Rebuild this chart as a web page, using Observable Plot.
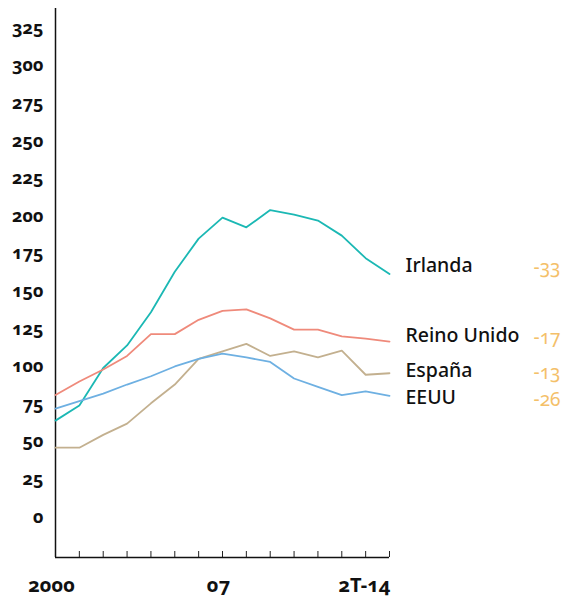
<!DOCTYPE html>
<html>
<head>
<meta charset="utf-8">
<script src="https://cdn.jsdelivr.net/npm/d3@7"></script>
<script src="https://cdn.jsdelivr.net/npm/@observablehq/plot@0.6"></script>
<style>
  html, body { margin: 0; padding: 0; background: #fff; }
  #chart svg { font-family: "Noto Sans", sans-serif; font-variant-numeric: oldstyle-nums; font-feature-settings: "onum" 1; display: block; }
</style>
</head>
<body>
<div id="chart"></div>
<script>
// x index 0..14 = 2000 .. 2T-14
const periods = d3.range(0, 15);
const xTickLabels = [{x: 0, label: "2000"}, {x: 7, label: "07"}];
const xLastLabel = [{x: 14, label: "2T-14"}];
const yTicks = [0, 25, 50, 75, 100, 125, 150, 175, 200, 225, 250, 275, 300, 325];

const irlanda    = [64, 74, 99, 114, 136, 163, 185, 199, 192.5, 204, 201, 197, 187, 172, 161.5];
const reinoUnido = [81, 90, 98, 107, 121.5, 121.5, 131, 137, 138, 132, 124.5, 124.5, 120, 118.5, 116.5];
const espana     = [46, 46, 54.5, 62, 75.5, 88, 105, 110, 115, 107, 110, 106, 110.5, 94.5, 95.5];
const eeuu       = [72, 77, 82, 88, 93.5, 100, 105, 108.5, 106, 103, 92, 86.5, 81, 83.5, 80.5];

const seriesNames = ["Irlanda", "Reino Unido", "España", "EEUU"];
const seriesValues = [irlanda, reinoUnido, espana, eeuu];
const changes = ["-33", "-17", "-13", "-26"];
const colors = ["#1bb8b4", "#ef8a7b", "#c3b08f", "#6eb0e2"];
const labelDy = [-8, -6, -2, 2];

const rows = seriesNames.flatMap((name, i) => seriesValues[i].map((v, j) => ({name, x: periods[j], y: v})));
const ends = seriesNames.map((name, i) => ({name, i, x: periods[periods.length - 1], y: seriesValues[i][seriesValues[i].length - 1], change: changes[i]}));

const yDomain = [-27, 338];

const marks = [
  Plot.axisY({ticks: yTicks, tickSize: 0, tickPadding: 12, fontSize: 18, fontWeight: "bold", fill: "#111", label: null}),
  Plot.axisX({ticks: d3.range(1, 15), tickSize: -6, tickFormat: () => "", stroke: "#222", label: null}),
  Plot.ruleX([0], {y1: yDomain[0], y2: yDomain[1], stroke: "#111", strokeWidth: 1.5}),
  Plot.ruleY([yDomain[0]], {x1: 0, x2: 14, stroke: "#111", strokeWidth: 1.5}),
  ...seriesNames.map((name, i) => Plot.lineY(rows.filter(d => d.name === name), {x: "x", y: "y", stroke: colors[i], strokeWidth: 1.8})),
  ...ends.map(d => Plot.text([d], {x: "x", y: "y", text: "name", textAnchor: "start", dx: 16, dy: labelDy[d.i], fontSize: 19.5, fontWeight: 500, fill: "#111"})),
  ...ends.map(d => Plot.text([d], {x: "x", y: "y", text: "change", textAnchor: "end", dx: 171, dy: labelDy[d.i] + 2, fontSize: 19, fill: "#f4c069"})),
  Plot.text(xTickLabels, {x: "x", frameAnchor: "bottom", text: "label", dy: 34, dx: -4, fontSize: 20, fontWeight: "bold", fill: "#111"}),
  Plot.text(xLastLabel, {x: "x", frameAnchor: "bottom", text: "label", textAnchor: "end", dy: 34, dx: 1, fontSize: 20, fontWeight: "bold", fill: "#111"})
];

const chart = Plot.plot({
  width: 563,
  height: 601,
  marginLeft: 55,
  marginRight: 174,
  marginTop: 8,
  marginBottom: 44,
  x: {domain: [0, 14], axis: null},
  y: {domain: yDomain, axis: null},
  marks
});
document.getElementById("chart").appendChild(chart);
</script>
</body>
</html>
